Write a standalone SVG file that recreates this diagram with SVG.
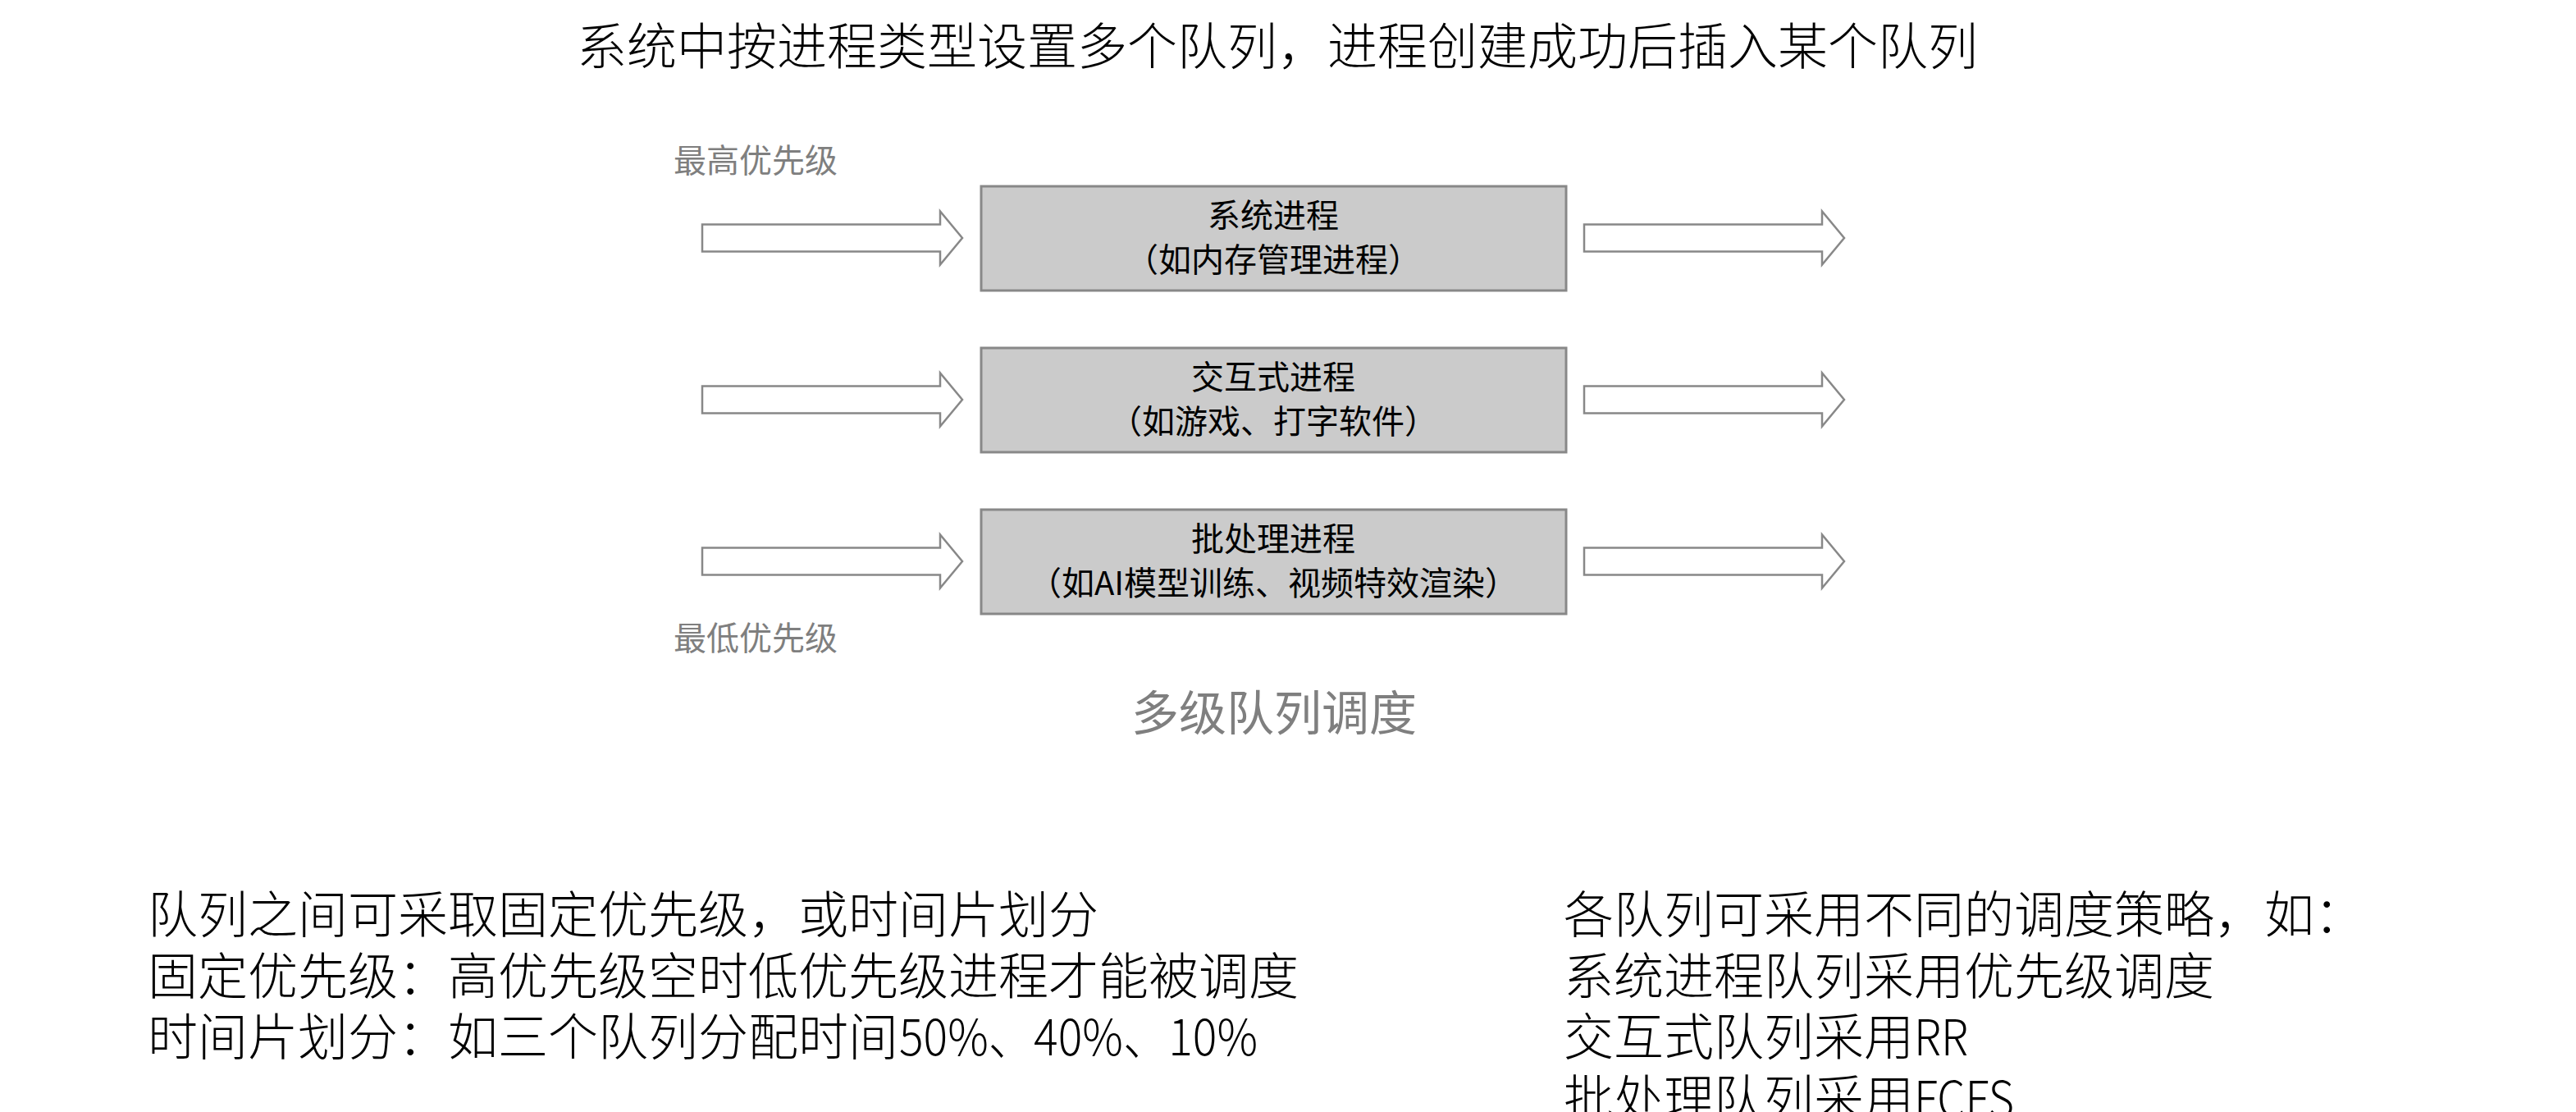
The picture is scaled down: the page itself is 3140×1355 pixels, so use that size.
<svg xmlns="http://www.w3.org/2000/svg" xmlns:xlink="http://www.w3.org/1999/xlink" width="3140" height="1355" viewBox="0 0 3140 1355">
  <style>
    .cjk { font-family: "Noto Sans CJK SC", "Noto Sans", sans-serif; }
    .title { font-size: 61px; fill: #000000; font-weight: 300; }
    .note { font-size: 61px; fill: #000000; font-weight: 300; }
    .box { fill: #cbcbcb; stroke: #888888; stroke-width: 3; }
    .boxtext { font-size: 40px; fill: #000000; text-anchor: middle; }
    .prio { font-size: 40px; fill: #7f7f7f; }
    .caption { font-size: 58px; fill: #7f7f7f; text-anchor: middle; }
    .arrow { fill: #ffffff; stroke: #888888; stroke-width: 2.5; stroke-linejoin: miter; }
  </style>
  <defs>
    <!-- hollow block arrow, origin at the tail centre -->
    <path id="blockArrow" class="arrow" d="M0,-16.5 H290 V-32.5 L317,0 L290,32.5 V16.5 H0 Z"/>
  </defs>

  <rect width="3140" height="1355" fill="#ffffff"/>

  <text class="cjk title" x="1557" y="79" text-anchor="middle">系统中按进程类型设置多个队列，进程创建成功后插入某个队列</text>

  <!-- priority labels -->
  <g id="label-high">
    <text class="cjk prio" x="821" y="210">最高优先级</text>
  </g>
  <g id="label-low">
    <text class="cjk prio" x="821" y="792">最低优先级</text>
  </g>

  <!-- queues -->
  <g id="queue-system">
    <rect class="box" x="1196" y="227" width="713" height="127"/>
    <text class="cjk boxtext" x="1552" y="277">系统进程</text>
    <text class="cjk boxtext" x="1552" y="331">（如内存管理进程）</text>
  </g>
  <g id="queue-interactive">
    <rect class="box" x="1196" y="424" width="713" height="127"/>
    <text class="cjk boxtext" x="1552" y="474">交互式进程</text>
    <text class="cjk boxtext" x="1552" y="528">（如游戏、打字软件）</text>
  </g>
  <g id="queue-batch">
    <rect class="box" x="1196" y="621" width="713" height="127"/>
    <text class="cjk boxtext" x="1552" y="671">批处理进程</text>
    <text class="cjk boxtext" x="1552" y="725">（如AI模型训练、视频特效渲染）</text>
  </g>

  <!-- arrows into and out of each queue -->
  <g id="connectors">
    <use xlink:href="#blockArrow" x="856" y="290"/>
    <use xlink:href="#blockArrow" x="1931" y="290"/>
    <use xlink:href="#blockArrow" x="856" y="487"/>
    <use xlink:href="#blockArrow" x="1931" y="487"/>
    <use xlink:href="#blockArrow" x="856" y="684"/>
    <use xlink:href="#blockArrow" x="1931" y="684"/>
  </g>

  <g id="caption">
    <text class="cjk caption" x="1553" y="890">多级队列调度</text>
  </g>

  <!-- notes on inter-queue scheduling -->
  <g id="notes-left">
    <text class="cjk note" x="180" y="1137">队列之间可采取固定优先级，或时间片划分</text>
    <text class="cjk note" x="180" y="1212">固定优先级：高优先级空时低优先级进程才能被调度</text>
    <text class="cjk note" x="180" y="1286">时间片划分：如三个队列分配时间<tspan x="1096" textLength="437" lengthAdjust="spacingAndGlyphs">50%、40%、10%</tspan></text>
  </g>

  <!-- notes on per-queue policies -->
  <g id="notes-right">
    <text class="cjk note" x="1906" y="1137">各队列可采用不同的调度策略，如：</text>
    <text class="cjk note" x="1906" y="1212">系统进程队列采用优先级调度</text>
    <text class="cjk note" x="1906" y="1286">交互式队列采用<tspan textLength="66" lengthAdjust="spacingAndGlyphs">RR</tspan></text>
    <text class="cjk note" x="1906" y="1361">批处理队列采用<tspan textLength="122" lengthAdjust="spacingAndGlyphs">FCFS</tspan></text>
  </g>
</svg>
